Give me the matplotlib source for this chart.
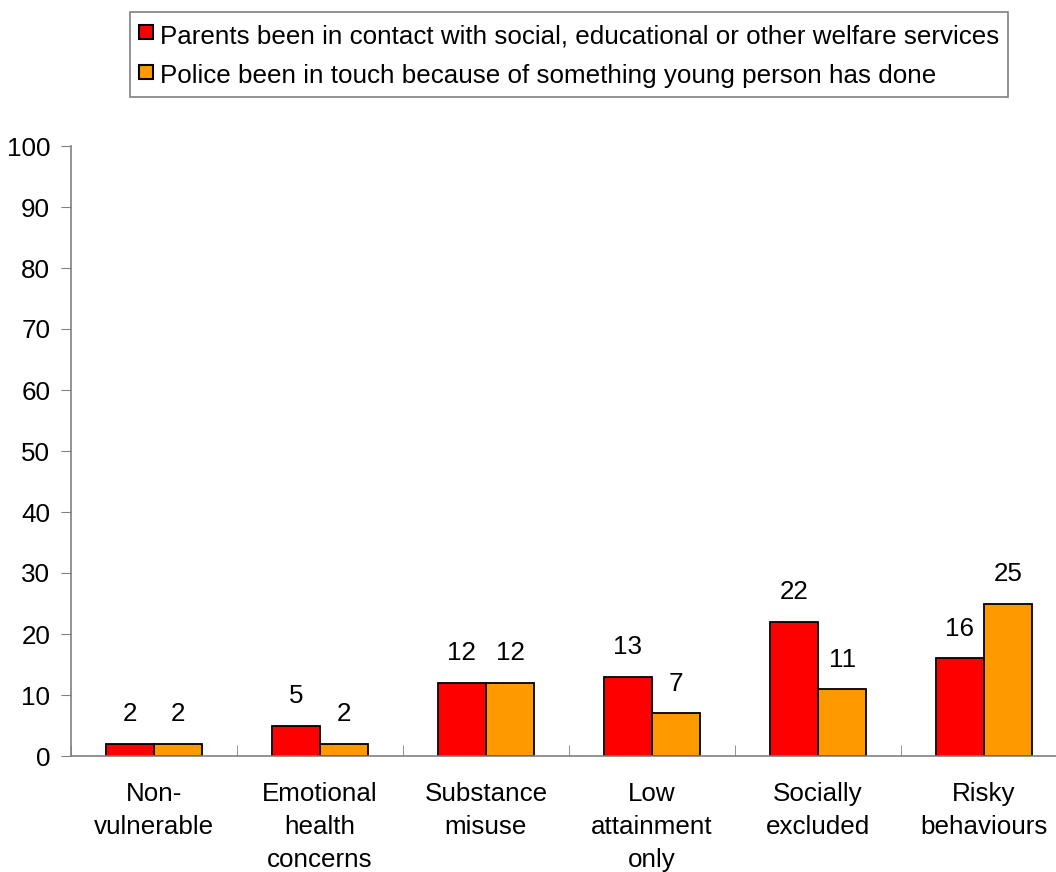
import matplotlib
matplotlib.use("Agg")
import matplotlib.pyplot as plt
from matplotlib.lines import Line2D
import numpy as np

categories = ["Non-\nvulnerable", "Emotional\nhealth\nconcerns", "Substance\nmisuse",
              "Low\nattainment\nonly", "Socially\nexcluded", "Risky\nbehaviours"]
parents = [2, 5, 12, 13, 22, 16]
police = [2, 2, 12, 7, 11, 25]
series_names = ["Parents been in contact with social, educational or other welfare services",
                "Police been in touch because of something young person has done"]
colors = ["#FF0000", "#FF9900"]
yticks = [0, 10, 20, 30, 40, 50, 60, 70, 80, 90, 100]

plt.rcParams['font.family'] = ['Liberation Sans', 'DejaVu Sans']
FS = 18.7

W, H = 1056, 872
fig = plt.figure(figsize=(W / 100, H / 100), dpi=100)
ax = fig.add_axes([71 / W, 116 / H, 996 / W, 610 / H])

x = np.arange(len(categories))
bw = 0.29
b1 = ax.bar(x - bw / 2, parents, bw, color=colors[0], edgecolor="black", linewidth=1.3)
b2 = ax.bar(x + bw / 2, police, bw, color=colors[1], edgecolor="black", linewidth=1.3)
ax.bar_label(b1, padding=12.5, fontsize=FS)
ax.bar_label(b2, padding=12.5, fontsize=FS)

ax.set_xlim(-0.5, len(categories) - 0.5)
ax.set_ylim(0, 100)
ax.set_yticks(yticks)
ax.tick_params(axis='y', direction='out', length=7, color='#808080', labelsize=FS, pad=8)
ax.set_xticks(x)
ax.set_xticklabels(categories, fontsize=FS, linespacing=1.46)
ax.tick_params(axis='x', which='major', length=0, pad=19)
ax.set_xticks(np.arange(-0.5, len(categories), 1.0), minor=True)
ax.tick_params(axis='x', which='minor', direction='in', length=8, color='#808080')

for s in ['top', 'right']:
    ax.spines[s].set_visible(False)
for s in ['left', 'bottom']:
    ax.spines[s].set_color('#808080')
    ax.spines[s].set_linewidth(1.2)

handles = [Line2D([], [], marker='s', linestyle='none', markersize=10,
                  markerfacecolor=c, markeredgecolor='black', markeredgewidth=1.5)
           for c in colors]
leg = fig.legend(handles, series_names, loc='upper left',
                 bbox_to_anchor=(130 / W, 1 - 12 / H), fontsize=FS,
                 frameon=True, fancybox=False, edgecolor='#808080', framealpha=1,
                 handlelength=0.5, handleheight=1.2, handletextpad=0.3,
                 labelspacing=0.5, borderpad=0.35, borderaxespad=0)
leg.get_frame().set_linewidth(1.2)

fig.savefig("out.png", dpi=100)
